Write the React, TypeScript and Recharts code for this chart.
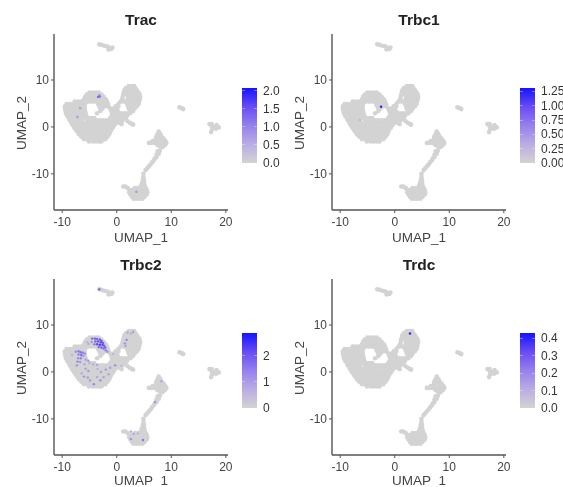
import React from "react";
import { ScatterChart, Scatter, XAxis, YAxis } from "recharts";

type P = [number, number];
type E = [number, number, number];

const xTicks = [-10, 0, 10, 20];
const yTicks = [-10, 0, 10];

// every row: y first, then the x position of each cell on it
const blobRows: number[][] = [
  [-3.1, -5.1, -4.4, -3.8, -3.2, -2.8],
  [-2.6, -6, -5.4, -4.8, -4.2, -3.6, -3, -2.5, -2.1],
  [-2.1, -6.5, -5.8, -5.2, -4.6, -4, -3.4, -2.8, -2.2, -1.7],
  [-1.6, -6.9, -6.2, -5.6, -5, -4.4, -3.8, -3.2, -2.6, -2, -1.4],
  [-1.1, -7.2, -6.6, -6, -5.4, -4.8, -4.2, -3.6, -3, -2.4, -1.8, -1.2],
  [-0.6, -7.5, -6.9, -6.3, -5.7, -5.1, -4.5, -3.9, -3.3, -2.7, -2.1, -1.5, -1],
  [-0.1, -7.8, -7.2, -6.6, -6, -5.4, -4.8, -4.2, -3.6, -3, -2.4, -1.8, -1.2, -0.7],
  [0.4, -8.1, -7.5, -6.9, -6.3, -5.7, -5.4, -4.6, -4, -3.6, -2.7, -2.4, -1.5, -1, -0.4],
  [0.9, -8.3, -7.7, -7.1, -6.5, -6.2, -5.4, -4.8, -4.2, -3.6, -3, -2.4, -1.8, -1.2, -0.6, 0, 0.5],
  [1.4, -8.6, -8, -7.4, -6.8, -6.4, -5.4, -4.8, -4.2, -3.6, -3, -2.4, -1.8, -1.2, -0.6, 0, 0.6, 1.1],
  [1.9, -8.8, -8.2, -7.6, -7, -6.4, -5.8, -5.2, -4.6, -4.1, -1.2, -0.6, 0, 0.6, 1.2, 1.6],
  [2.4, -9.1, -8.5, -7.9, -7.3, -6.7, -6.1, -5.6, -0.9, -0.3, 0.3, 0.9, 1.5, 1.9],
  [2.9, -9.3, -8.7, -8.1, -7.5, -6.9, -6.3, -5.7, -3.6, -0.8, -0.2, 0.4, 0.9, 1.5, 2.1, 2.5],
  [3.4, -9.4, -8.8, -8.2, -7.6, -7, -6.4, -5.8, -3, -1, -0.4, 0.2, 2.4, 3],
  [3.9, -9.5, -8.9, -8.3, -7.7, -7.1, -6.5, -5.9, -3, -2.6, -1.2, -0.6, 0, 2.2, 2.8, 3.3],
  [4.4, -9.5, -8.9, -8.3, -7.7, -7.1, -6.5, -5.9, -3.2, -2.6, -2, -1.5, -0.2, 0.3, 2.1, 2.7, 3.3, 3.7],
  [4.9, -9.2, -8.6, -8, -7.4, -6.8, -6.2, -5.8, -3.4, -2.8, -2.2, -1.6, 0.3, 1.9, 2.5, 3.1, 3.7, 4],
  [5.4, -7.7, -7.1, -6.5, -5.9, -5.3, -4.7, -4.1, -3.5, -2.9, -2.3, -1.8, 0.7, 1.3, 1.9, 2.5, 3.1, 3.7, 4.1],
  [5.9, -6, -5.4, -4.8, -4.2, -3.6, -3, -2.4, -2, 1, 2, 2.6, 3.2, 3.8, 4.2],
  [6.4, -5.8, -5.2, -4.6, -4, -3.4, -2.8, -2.4, 1.1, 2.1, 2.7, 3.3, 3.9, 4.3],
  [6.9, -5.5, -4.9, -4.3, -3.7, -3.1, -2.8, 1.2, 1.8, 2.4, 3, 3.6, 4.2],
  [7.3, -5, -4.4, -3.8, -3.3, 1.3, 1.9, 2.5, 3.1, 3.7, 4],
  [7.8, 1.4, 2, 2.6, 3.2, 3.7],
  [8.3, 1.7, 2.3, 2.9, 3.4],
  [8.7, 2.2, 2.8, 3.2],
];

const tail: P[] = [[2, 1.2], [2.4, 0.9], [2.8, 0.6], [3, 0.5], [1.6, 1.8], [0.9, 0.6]];
const topCluster: P[] = [[-3.2, 17.6], [-2.8, 17.5], [-2.3, 17.3], [-1.8, 17.2], [-1.4, 16.9], [-1, 16.6], [-1.5, 16.5], [-0.8, 16.9]];
const smallCluster: P[] = [[11.5, 4.2], [11.9, 4], [12.2, 3.8]];
const rightCluster: P[] = [[17, 0.6], [17.4, 0.2], [17.9, -0.1], [18.3, 0.4], [18.7, -0.1], [17.5, -0.5], [18.2, -0.4], [17.3, -1.1], [17.4, 0.6]];
const middleRows: number[][] = [
  [-1, 7.7], [-1.5, 7.5, 8],
  [-2, 7.3, 7.8, 8.2], [-2.5, 7.2, 7.7, 8.2, 8.6],
  [-3, 6.6, 7.1, 7.7, 8.3, 8.9], [-3.4, 5.9, 6.4, 7, 7.6, 8.2, 8.8, 9.1],
  [-3.9, 7.5, 8, 8.5, 8.8], [-4.3, 8, 8.4],
];
const strand: P[] = [
  [7.9, -5.1], [7.5, -5.2], [7.7, -5.7], [7.3, -5.9], [7.3, -6.4], [7, -6.7], [6.8, -7.1], [6.5, -7.5], [6.2, -8], [5.9, -8.4], [5.6, -8.8], [5.3, -9.2],
];
const lowerRows: number[][] = [
  [-10, 4.9], [-10.6, 4.9], [-11.2, 4.8, 5], [-11.8, 4.7, 5], [-12.4, 4.5, 5.1],
  [-12.7, 1.2, 1.6], [-13, 2, 3.3, 3.9, 4.4, 4.9, 5.3], [-13.4, 2.3, 2.9, 3.4, 3.9, 4.4, 4.9, 5.5],
  [-13.9, 2.3, 3, 3.5, 4, 4.5, 5, 5.6], [-14.4, 2.5, 3.2, 3.7, 4.2, 4.7, 5.2, 5.5],
  [-14.9, 2.8, 3.5, 4, 4.5, 5.1], [-15.3, 3.1, 3.6, 4.1, 4.7],
];

const fromRows = (rows: number[][]): P[] => rows.flatMap(([y, ...xs]) => xs.map((x): P => [x, y]));
const cells: P[] = [
  ...fromRows(blobRows), ...tail, ...topCluster, ...smallCluster, ...rightCluster,
  ...fromRows(middleRows), ...strand, ...fromRows(lowerRows),
];

const tracExpr: E[] = [[-3.4, 6.4, 1.4], [-3.1, 6.5, 1.3], [-3.2, 6.7, 1], [-6.7, 4, 0.7], [-7.2, 2.1, 0.8], [3.6, -13.8, 0.8]];
const trbc1Expr: E[] = [[-2.5, 4.3, 1.25], [-6.4, 1.5, 0.25]];
const trdcExpr: E[] = [[2.8, 8.2, 0.4]];
const trbc2Expr: E[] = [
  [-3.2, 17.6, 2], [-4.5, 7.1, 1.8], [-4, 7.1, 2], [-3.6, 7, 1.8], [-3.1, 6.9, 2], [-2.8, 6.6, 2.2], [-4.6, 6.4, 1.2], [-3.9, 6.5, 2], [-3.4, 6.5, 2.2],
  [-2.9, 6.3, 2.2], [-2.5, 6.2, 2], [-4.1, 5.9, 1.5], [-3.6, 5.9, 2.2], [-3.1, 5.8, 2.4], [-2.6, 5.8, 2.3], [-2.3, 5.6, 2],
  [-3.3, 5.3, 1.8], [-2.8, 5.2, 2], [-2.4, 5, 1.8], [-2.1, 5.2, 1.9], [-2, 4.6, 1.6], [-1.7, 4.3, 1.2], [-5.2, 6, 0.8], [-5.5, 6.4, 0.6],
  [-7.5, 4.3, 1.3], [-7, 4.4, 1.6], [-6.6, 4.2, 1.7], [-6.2, 4.1, 1.5], [-5.8, 3.9, 1.3], [-7, 3.7, 1.5], [-6.5, 3.6, 1.8], [-6.1, 3.4, 1.2],
  [-7.1, 2.9, 1.2], [-6.6, 2.9, 1.5], [-7.2, 2.2, 1.4], [-6.7, 2.1, 1.1], [-5.7, 2.6, 1], [-5.2, 2.4, 1.2], [-8.2, 3.6, 0.6],
  [-7.3, 1.4, 1.2], [-5.9, 1.6, 0.9], [-5, 1.9, 0.7], [-4.3, 1.6, 0.8], [-3.6, 1.5, 0.8], [-5.7, 0.7, 1], [-5.2, 0.2, 1.1], [-6.4, -0.3, 0.9],
  [-6, -1, 1.2], [-5.3, -1.2, 1], [-4.9, -1.8, 1.1], [-4.2, -2.6, 1.4], [-3.6, -1.1, 0.9], [-3, -1.8, 1.3], [-2.4, -1.1, 1], [-2.9, 0, 1],
  [-2, 0.5, 1.1], [-1.5, -0.5, 0.9], [-1.2, 0.9, 1], [-0.3, 1.4, 1.4], [-3.5, 0.6, 0.7], [-0.7, 3.8, 0.6], [0.8, 1.3, 0.5],
  [1.6, 5.6, 1], [1.8, 6.8, 1.4], [1.5, 6.1, 1.1], [2, 8.4, 0.8], [3, 8.5, 1], [2.6, 8.2, 0.7], [8.2, -2, 0.8], [7, -6.4, 1.2],
  [2.6, -12.7, 0.8], [3.1, -13.2, 0.8], [2.6, -14.3, 1.2], [4.8, -14.5, 1.6], [3.9, -13.1, 0.6],
];

const tracTicks = [0, 0.5, 1, 1.5, 2];
const trbc1Ticks = [0, 0.25, 0.5, 0.75, 1, 1.25];
const trbc2Ticks = [0, 1, 2];
const trdcTicks = [0, 0.1, 0.2, 0.3, 0.4];

const RAMP = [[211, 211, 211], [186, 172, 228], [150, 128, 236], [104, 76, 244], [20, 20, 255]];
const mix = (t: number) => {
  const k = Math.max(0, Math.min(1, t)) * (RAMP.length - 1);
  const i = Math.min(RAMP.length - 2, Math.floor(k));
  const f = k - i;
  return `rgb(${RAMP[i].map((c, j) => Math.round(c + (RAMP[i + 1][j] - c) * f)).join(",")})`;
};
const rampCss = `linear-gradient(to top, ${RAMP.map((c) => `rgb(${c.join(",")})`).join(", ")})`;

const FONT = "'Liberation Sans', Arial, sans-serif";
const INK = "#444";

function Panel(props: {
  title: string; left: number; top: number; expr: E[]; max: number; ticks: number[]; digits: number; xLabelOffset: number;
}) {
  const { title, left, top, expr, max, ticks, digits, xLabelOffset } = props;
  const grey = cells.map(([x, y]) => ({ x, y }));
  const hot = expr.map(([x, y, v]) => ({ x, y, color: mix(v / max) }));
  const W = 240, H = 245, barH = 75;
  const axis = { stroke: "#555", strokeWidth: 1.4 };
  const tick = { fill: INK, fontSize: 12, fontFamily: FONT };
  return (
    <div style={{ position: "absolute", left, top, width: W + 60, height: H, fontFamily: FONT }}>
      <div style={{ position: "absolute", left: 54, width: 174, top: 11, textAlign: "center", fontWeight: 700, fontSize: 15.5, color: "#222", lineHeight: "18px" }}>{title}</div>
      <ScatterChart width={W} height={H} margin={{ top: 34, right: 12, bottom: 13, left: 4 }}>
        <XAxis type="number" dataKey="x" domain={[-11.5, 20.4]} ticks={xTicks} allowDataOverflow interval={0} height={22}
          axisLine={axis} tickLine={{ stroke: "#555" }} tickSize={3} tickMargin={4} tick={tick}
          label={{ value: "UMAP_1", position: "insideBottom", offset: xLabelOffset, fill: INK, fontSize: 13.5, fontFamily: FONT }} />
        <YAxis type="number" dataKey="y" domain={[-17.7, 19.8]} ticks={yTicks} allowDataOverflow interval={0} width={50}
          axisLine={axis} tickLine={{ stroke: "#555" }} tickSize={3} tick={tick}
          label={{ value: "UMAP_2", angle: -90, position: "insideLeft", offset: 17, dy: 28, fill: INK, fontSize: 13.5, fontFamily: FONT }} />
        <Scatter data={grey} isAnimationActive={false}
          shape={(p: any) => <circle cx={p.cx} cy={p.cy} r={2.3} fill="#d3d3d3" />} />
        <Scatter data={hot} isAnimationActive={false}
          shape={(p: any) => <circle cx={p.cx} cy={p.cy} r={1.2} fill={p.payload.color} />} />
      </ScatterChart>
      <div style={{ position: "absolute", left: 242, top: 88, width: 15, height: barH, background: rampCss }}>
        {ticks.map((t) => (
          <React.Fragment key={t}>
            <div style={{ position: "absolute", left: 0, width: 3, height: 1, background: "rgba(255,255,255,.35)", top: barH - (t / max) * barH - 0.5 }} />
            <div style={{ position: "absolute", right: 0, width: 3, height: 1, background: "rgba(255,255,255,.35)", top: barH - (t / max) * barH - 0.5 }} />
          </React.Fragment>
        ))}
      </div>
      {ticks.map((t) => (
        <div key={t} style={{ position: "absolute", left: 263, top: 88 + barH - (t / max) * barH - 7, fontSize: 12, lineHeight: "14px", color: "#333" }}>
          {t.toFixed(digits)}
        </div>
      ))}
    </div>
  );
}

export default function App() {
  return (
    <div style={{ position: "absolute", left: 0, top: 0, width: 563, height: 487, overflow: "hidden", background: "#fff", filter: "blur(0.45px)" }}>
      <Panel title="Trac" left={0} top={0} expr={tracExpr} max={2.08} ticks={tracTicks} digits={1} xLabelOffset={-10} />
      <Panel title="Trbc1" left={278} top={0} expr={trbc1Expr} max={1.31} ticks={trbc1Ticks} digits={2} xLabelOffset={-10} />
      <Panel title="Trbc2" left={0} top={245} expr={trbc2Expr} max={2.88} ticks={trbc2Ticks} digits={0} xLabelOffset={-8} />
      <Panel title="Trdc" left={278} top={245} expr={trdcExpr} max={0.43} ticks={trdcTicks} digits={1} xLabelOffset={-8} />
    </div>
  );
}
